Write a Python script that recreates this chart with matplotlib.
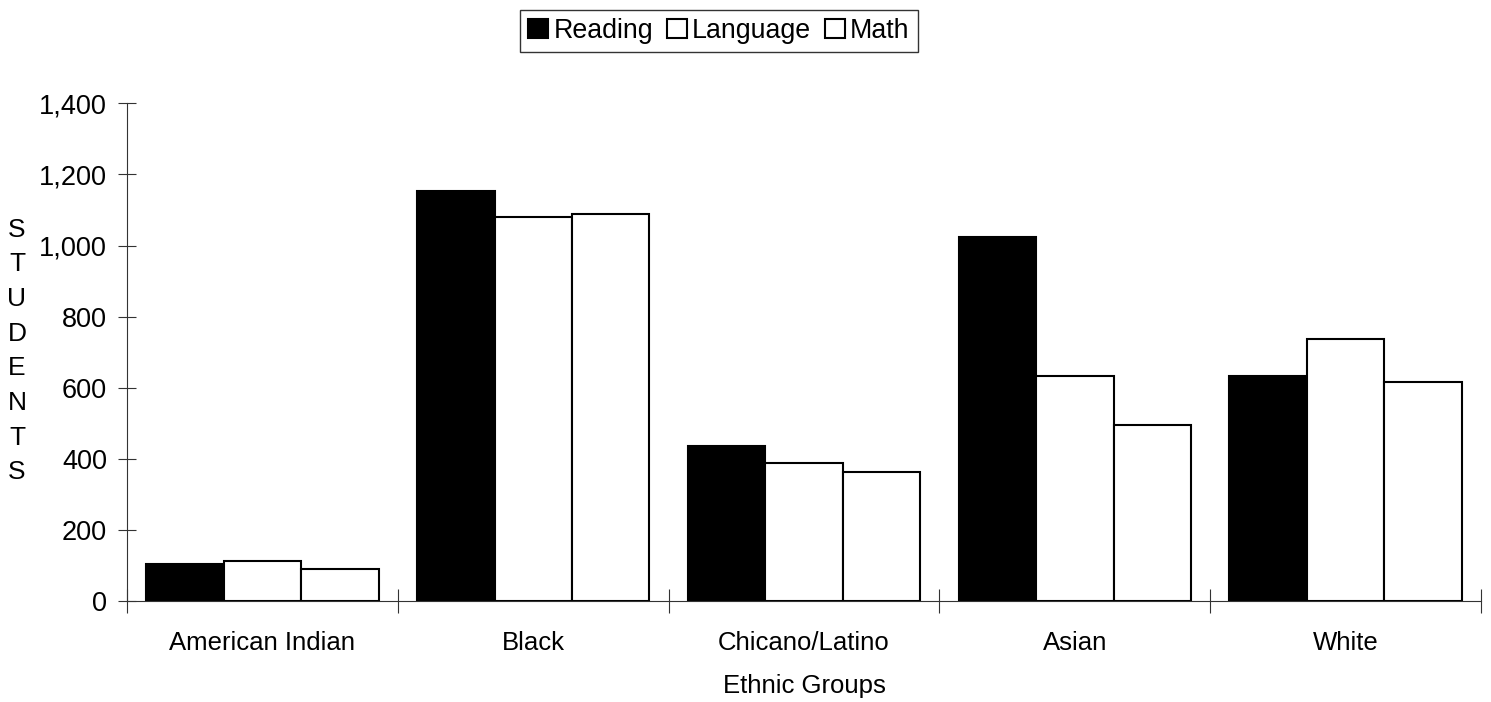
import matplotlib.pyplot as plt
import numpy as np
from matplotlib.ticker import FuncFormatter

plt.rcParams['font.family'] = ['Liberation Sans', 'DejaVu Sans']

groups = ['American Indian', 'Black', 'Chicano/Latino', 'Asian', 'White']
reading = [105, 1153, 438, 1023, 634]
language = [114, 1081, 390, 633, 739]
math = [92, 1089, 364, 496, 617]

fig = plt.figure(figsize=(14.91, 7.02), dpi=100)
ax = fig.add_axes([0.0852, 0.1432, 0.9081, 0.7096])

x = np.arange(len(groups)) + 0.5
w = 0.286
ax.bar(x - w, reading, w, color='black', edgecolor='black', linewidth=1.5, label='Reading')
ax.bar(x, language, w, color='white', edgecolor='black', linewidth=1.5, label='Language')
ax.bar(x + w, math, w, color='white', edgecolor='black', linewidth=1.5, label='Math')

ax.set_xlim(0, len(groups))
ax.set_ylim(0, 1400)
ax.set_yticks(np.arange(0, 1401, 200))
ax.yaxis.set_major_formatter(FuncFormatter(lambda v, p: f'{int(v):,}'))

ax.set_xticks(np.arange(0, len(groups) + 1))
ax.set_xticklabels([])
ax.set_xticks(x, minor=True)
ax.set_xticklabels(groups, minor=True)
ax.tick_params(axis='x', which='major', direction='inout', length=17, width=0.8, color='#333333')
ax.tick_params(axis='x', which='minor', length=0, pad=21, labelsize=18.5)
ax.tick_params(axis='y', direction='inout', length=13, width=0.8, color='#333333', pad=8, labelsize=19.5)

for s in ['top', 'right']:
    ax.spines[s].set_visible(False)
for s in ['left', 'bottom']:
    ax.spines[s].set_linewidth(0.8)
    ax.spines[s].set_color('#333333')

ax.set_xlabel('Ethnic Groups', fontsize=18.5, labelpad=14)
fig.text(0.0114, 0.5, '\n'.join('STUDENTS'), fontsize=19, ha='center', va='center',
         linespacing=1.56)

leg = fig.legend(loc='center', bbox_to_anchor=(0.4822, 0.9558), ncol=3, fontsize=19.3,
                 frameon=True, fancybox=False, edgecolor='black', handlelength=0.75,
                 handleheight=0.75, handletextpad=0.2, columnspacing=0.5,
                 borderpad=0.3, borderaxespad=0)
leg.get_frame().set_linewidth(1.0)

fig.savefig('out.png', dpi=100)
